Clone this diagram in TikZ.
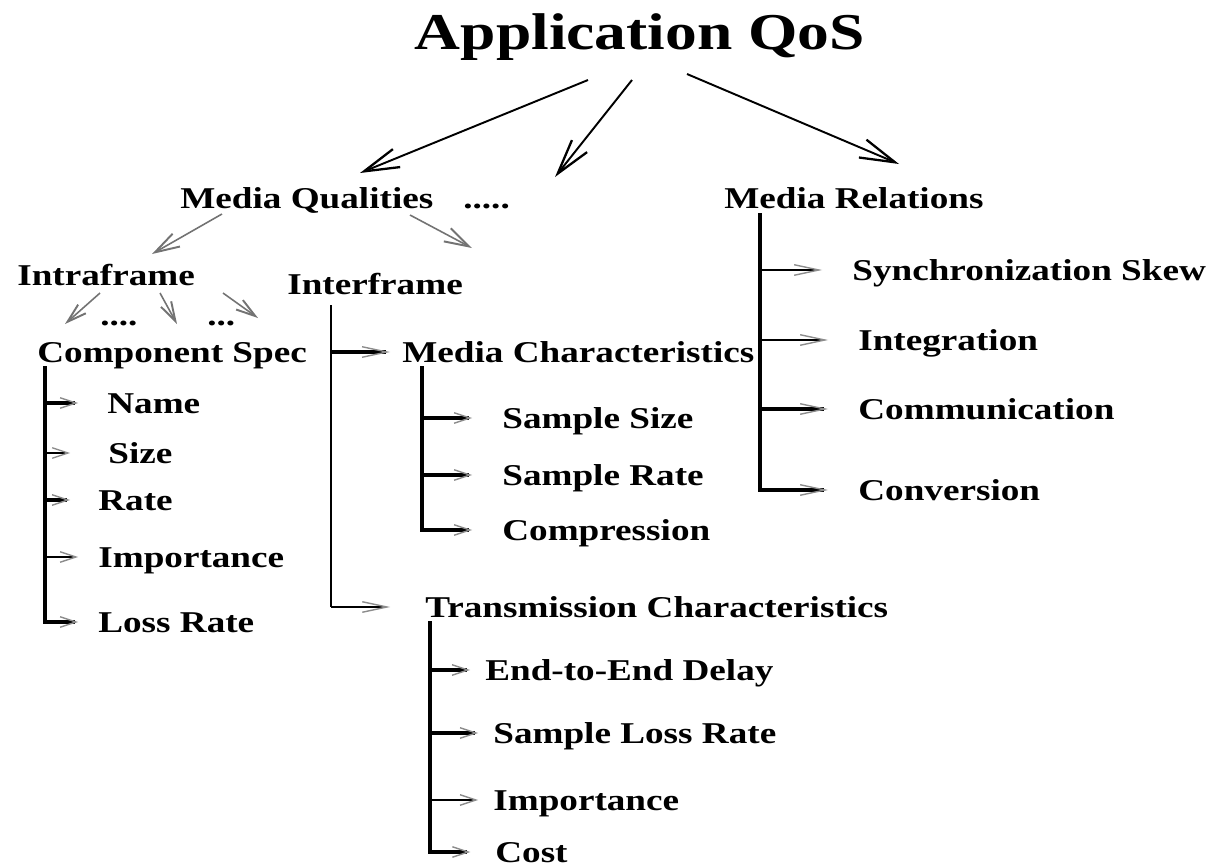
\documentclass[tikz,border=0pt]{standalone}
\usepackage{fontspec}
\newfontfamily\qosfont{Liberation Serif}[UprightFont={* Bold},FakeStretch=1.23]
\usetikzlibrary{arrows.meta}

\begin{document}
\begin{tikzpicture}[x=0.02cm,y=-0.02cm,
    lbl/.style={anchor=base west,inner sep=0pt,text height=11.4pt,text depth=0pt,
      font=\qosfont\fontsize{17.2}{20}\selectfont},
    toparrow/.style={line width=1.1pt,-{Straight Barb[length=20pt,width=11pt,line width=1.3pt]}},
    subarrow/.style={line width=0.9pt,black!55,-{Straight Barb[length=#1,width=0.6*#1,line width=1.1pt]}},
    subarrow/.default=14pt,
    brtip/.style={-{Straight Barb[length=#1,width=6pt,line width=0.8pt,color=black!45]}},
    brtip/.default=9pt,
    thickbr/.style={line width=2.5pt},
    thinbr/.style={line width=1.1pt}
  ]
  \useasboundingbox (0,0) rectangle (1209,867);

  % title and the three top arrows
  \node[anchor=base,inner sep=0pt,font=\qosfont\fontsize{29.4}{34}\selectfont] (app) at (640,49) {Application QoS};
  \coordinate (s1) at (588,80);  \coordinate (e1) at (360,173);
  \coordinate (s2) at (632,80);  \coordinate (e2) at (555,177);
  \coordinate (s3) at (687,74);  \coordinate (e3) at (899,164);
  \draw[toparrow] (s1) -- (e1);
  \draw[toparrow] (s2) -- (e2);
  \draw[toparrow] (s3) -- (e3);

  % second level
  \node[lbl] (mq) at (180,208) {Media Qualities};
  \node[lbl] (mqdots) at (463,208) {.....};
  \node[lbl] (mr) at (724,208) {Media Relations};
  \coordinate (q1) at (222,214); \coordinate (q2) at (152,254);
  \coordinate (q3) at (410,215); \coordinate (q4) at (472,248);
  \draw[subarrow] (q1) -- (q2);
  \draw[subarrow] (q3) -- (q4);

  \node[lbl] (intra) at (17,285) {Intraframe};
  \node[lbl] (inter) at (287,294) {Interframe};
  \coordinate (i1) at (100,293); \coordinate (i2) at (65,324);
  \coordinate (i3) at (160,293); \coordinate (i4) at (177,324);
  \coordinate (i5) at (223,293); \coordinate (i6) at (258,318);
  \draw[subarrow=11pt] (i1) -- (i2);
  \draw[subarrow=11pt] (i3) -- (i4);
  \draw[subarrow=11pt] (i5) -- (i6);
  \node[lbl] (intradots) at (100,325) {....};
  \node[lbl] (intradotsb) at (207,325) {...};

  % Component Spec
  \node[lbl] (cs) at (37,362) {Component Spec};
  \node[lbl] (nm) at (107,413) {Name};
  \node[lbl] (sz) at (108,463) {Size};
  \node[lbl] (rt) at (98,510) {Rate};
  \node[lbl] (imp) at (98,567) {Importance};
  \node[lbl] (loss) at (98,632) {Loss Rate};
  \coordinate (csb) at (45,368);
  \draw[line width=2.8pt,line cap=rect] (csb) -- (csb |- loss.west);
  \draw[thickbr,brtip,shorten >=16.4pt] (csb |- nm.west) -- (nm.west);
  \draw[thinbr,brtip,shorten >=21.5pt] (csb |- sz.west) -- (sz.west);
  \draw[line width=1.8pt,brtip,shorten >=15.9pt] (csb |- rt.west) -- (rt.west);
  \draw[thinbr,brtip,shorten >=11.3pt] (csb |- imp.west) -- (imp.west);
  \draw[thickbr,brtip,shorten >=11.3pt] (csb |- loss.west) -- (loss.west);

  % Interframe
  \node[lbl] (mc) at (402,362) {Media Characteristics};
  \node[lbl] (tc) at (425,617) {Transmission Characteristics};
  \coordinate (ifb) at (331,305);
  \draw[line width=1.2pt] (ifb) -- (ifb |- tc.west);
  \draw[thickbr,brtip=14pt,shorten >=6.8pt] (ifb |- mc.west) -- (mc.west);
  \draw[thinbr,brtip=14pt,shorten >=19.8pt] (ifb |- tc.west) -- (tc.west);

  \node[lbl] (ssz) at (502,428) {Sample Size};
  \node[lbl] (srt) at (502,485) {Sample Rate};
  \node[lbl] (cmp) at (502,540) {Compression};
  \coordinate (mcb) at (422,368);
  \draw[line width=2.3pt,line cap=rect] (mcb) -- (mcb |- cmp.west);
  \foreach \n in {ssz,srt,cmp}
    \draw[thickbr,brtip,shorten >=17pt] (mcb |- \n.west) -- (\n.west);

  \node[lbl] (eed) at (485,680) {End-to-End Delay};
  \node[lbl] (slr) at (493,743) {Sample Loss Rate};
  \node[lbl] (timp) at (493,810) {Importance};
  \node[lbl] (cost) at (495,862) {Cost};
  \coordinate (tcb) at (430,623);
  \draw[line width=1.8pt,line cap=rect] (tcb) -- (tcb |- cost.west);
  \draw[thickbr,brtip,shorten >=8.5pt] (tcb |- eed.west) -- (eed.west);
  \draw[thickbr,brtip,shorten >=8.5pt] (tcb |- slr.west) -- (slr.west);
  \draw[thinbr,brtip,shorten >=8.5pt] (tcb |- timp.west) -- (timp.west);
  \draw[thickbr,brtip,shorten >=14pt] (tcb |- cost.west) -- (cost.west);

  % Media Relations
  \node[lbl] (sync) at (852,280) {Synchronization Skew};
  \node[lbl] (integ) at (858,350) {Integration};
  \node[lbl] (comm) at (858,419) {Communication};
  \node[lbl] (conv) at (858,500) {Conversion};
  \coordinate (mrb) at (760,215);
  \draw[line width=2.8pt,line cap=rect] (mrb) -- (mrb |- conv.west);
  \draw[thinbr,brtip=14pt,shorten >=17pt] (mrb |- sync.west) -- (sync.west);
  \draw[thinbr,brtip=14pt,shorten >=17pt] (mrb |- integ.west) -- (integ.west);
  \draw[thickbr,brtip=14pt,shorten >=17pt] (mrb |- comm.west) -- (comm.west);
  \draw[thickbr,brtip=14pt,shorten >=17pt] (mrb |- conv.west) -- (conv.west);
\end{tikzpicture}
\end{document}
